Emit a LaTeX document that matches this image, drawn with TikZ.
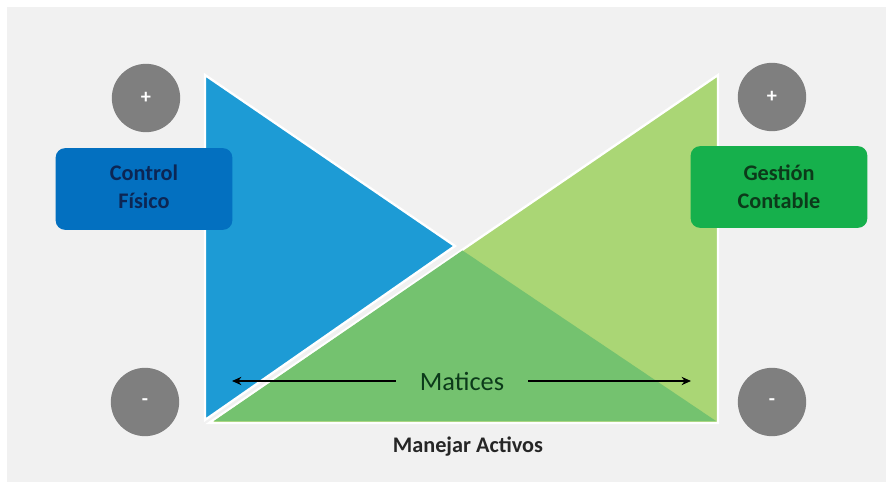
\documentclass[tikz,border=0pt]{standalone}
\usepackage{fontspec}
\setmainfont{Carlito}
\usetikzlibrary{arrows.meta}
\definecolor{panel}{RGB}{241,241,241}
\definecolor{triblue}{RGB}{29,155,213}
\definecolor{trilight}{RGB}{170,214,117}
\definecolor{trimid}{RGB}{116,194,111}
\definecolor{boxblue}{RGB}{3,112,192}
\definecolor{boxgreen}{RGB}{22,176,76}
\definecolor{txtblue}{RGB}{12,38,84}
\definecolor{txtgreen}{RGB}{12,58,26}
\definecolor{dot}{RGB}{127,127,127}
\tikzset{
	sign/.style={circle,fill=dot,minimum size=2.05cm,inner sep=0,text=white,font=\bfseries\LARGE},
	label box/.style={rounded corners=8pt,minimum width=5.3cm,minimum height=2.45cm,font=\bfseries\fontsize{19}{24}\selectfont,align=center},
}

\begin{document}
\begin{tikzpicture}[x=0.03cm,y=-0.03cm]
	\useasboundingbox (0,0) rectangle (886,482);
	\fill[white] (0,0) rectangle (886,482);
	\fill[panel] (7,7) rectangle (886,482);
	% big green triangle, the overlap, then the blue one on top
	\filldraw[trilight,draw=white,line width=2pt] (718,75)--(718,423)--(209,423)--cycle;
	\fill[trimid] (214,421)--(716,421)--(462.5,250.5)--cycle;
	\filldraw[triblue,draw=white,line width=2pt] (205,75)--(205,420)--(455,246)--cycle;
	% plus / minus
	\node[sign] (pl) at (146,98) {+};
	\node[sign] (pr) at (772,97) {+};
	\node[sign] (ml) at (145,402) {-};
	\node[sign] (mr) at (772,402) {-};
	% labels
	\node[label box,fill=boxblue,text=txtblue] (ctrl) at (144,189) {Control\\F\'isico\vphantom{g}};
	\node[label box,fill=boxgreen,text=txtgreen] (gest) at (779,187) {Gesti\'on\\Contable};
	\node[font=\fontsize{22.5}{26}\selectfont,text=txtgreen] (mat) at (462,381) {Matices};
	\coordinate (aleft) at (232,381);
	\coordinate (aright) at (691,381);
	\draw[-{Stealth[length=8pt,width=7pt]},line width=1.3pt] ([xshift=-17pt]mat.west) -- (aleft);
	\draw[-{Stealth[length=8pt,width=7pt]},line width=1.3pt] ([xshift=17pt]mat.east) -- (aright);
	\node[font=\bfseries\fontsize{19}{23}\selectfont,text=black!85] (act) at (468,447) {Manejar Activos};
\end{tikzpicture}
\end{document}
